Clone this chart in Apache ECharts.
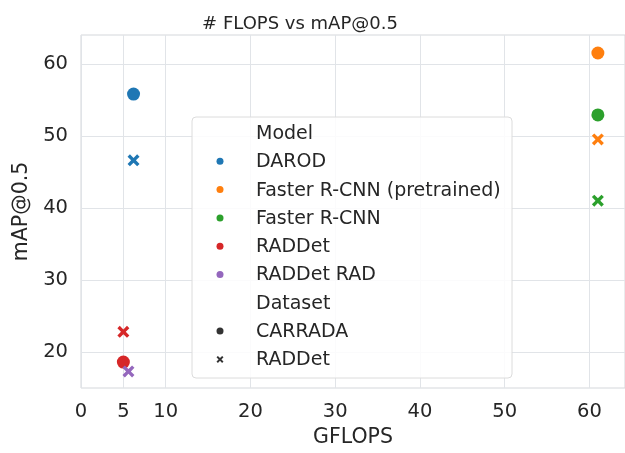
<!DOCTYPE html>
<html>
<head>
<meta charset="utf-8">
<script src="https://cdn.jsdelivr.net/npm/echarts@6/dist/echarts.min.js"></script>
<style>
  html, body { margin: 0; padding: 0; background: #ffffff; }
  #chart { width: 625px; height: 453px; }
</style>
</head>
<body>
<div id="chart"></div>
<script>
// Models, their colours, and the two evaluation datasets
const models = ['DAROD', 'Faster R-CNN (pretrained)', 'Faster R-CNN', 'RADDet', 'RADDet RAD'];
const modelColors = ['#1f77b4', '#ff7f0e', '#2ca02c', '#d62728', '#9467bd'];
const datasets = ['CARRADA', 'RADDet'];

// GFLOPS and mAP@0.5 per model, one pair of arrays per dataset (null = not evaluated)
const carradaGflops = [6.2, 61.0, 61.0, 5.0, null];
const carradaMap    = [55.8, 61.5, 52.9, 18.6, null];
const raddetGflops  = [6.2, 61.0, 61.0, 5.0, 5.6];
const raddetMap     = [46.6, 49.5, 41.0, 22.8, 17.3];

// Tick labels
const xTicks = [0, 5, 10, 20, 30, 40, 50, 60];
const yTicks = [20, 30, 40, 50, 60];

const FONT = 'DejaVu Sans';
const TEXT = '#262626';
const GRIDC = '#e1e4e8';
const CROSS = 'path://M0,2 L2,0 L5,3 L8,0 L10,2 L7,5 L10,8 L8,10 L5,7 L2,10 L0,8 L3,5 Z';

const datasetSymbols = ['circle', CROSS];
const datasetSizes = [13, 12];
const gflopsByDataset = [carradaGflops, raddetGflops];
const mapByDataset = [carradaMap, raddetMap];

const series = [];
datasets.forEach(function (ds, d) {
  models.forEach(function (m, i) {
    const x = gflopsByDataset[d][i];
    const y = mapByDataset[d][i];
    if (x == null || y == null) return;
    series.push({
      type: 'scatter',
      name: m + ' / ' + ds,
      data: [[x, y]],
      symbol: datasetSymbols[d],
      symbolSize: datasetSizes[d],
      itemStyle: { color: modelColors[i], opacity: 1 },
      z: 2 + d,
      animation: false
    });
  });
});

// Legend built as graphic elements: section headers plus entries
const legendRows = [];
legendRows.push({ text: 'Model' });
models.forEach(function (m, i) { legendRows.push({ text: m, symbol: 'circle', color: modelColors[i], size: 7 }); });
legendRows.push({ text: 'Dataset' });
datasets.forEach(function (ds, d) { legendRows.push({ text: ds, symbol: d === 0 ? 'circle' : 'cross', color: '#333333', size: 7 }); });

const legX = 192, legY = 117, legW = 320, legH = 261;
const rowY0 = 133, rowStep = 28.3, markX = 220, textX = 256;
const legendGraphics = [{
  type: 'rect',
  shape: { x: legX, y: legY, width: legW, height: legH, r: 4 },
  style: { fill: 'rgba(255,255,255,0.85)', stroke: '#dcdcdc', lineWidth: 1 },
  z: 20
}];
legendRows.forEach(function (row, k) {
  const cy = rowY0 + k * rowStep;
  if (row.symbol === 'circle') {
    legendGraphics.push({ type: 'circle', shape: { cx: markX, cy: cy, r: row.size / 2 }, style: { fill: row.color }, z: 21 });
  } else if (row.symbol === 'cross') {
    const s = row.size;
    legendGraphics.push({
      type: 'polygon',
      shape: { points: [[0,2],[2,0],[5,3],[8,0],[10,2],[7,5],[10,8],[8,10],[5,7],[2,10],[0,8],[3,5]].map(function (p) { return [markX - s / 2 + p[0] * s / 10, cy - s / 2 + p[1] * s / 10]; }) },
      style: { fill: row.color }, z: 21
    });
  }
  legendGraphics.push({
    type: 'text', x: textX, y: cy + 1,
    style: { text: row.text, font: '19px "' + FONT + '"', fill: TEXT, verticalAlign: 'middle', align: 'left' },
    z: 21
  });
});

const chart = echarts.init(document.getElementById('chart'), null, { renderer: 'canvas' });
chart.setOption({
  backgroundColor: '#ffffff',
  animation: false,
  title: {
    text: '# FLOPS vs mAP@0.5',
    left: 295, top: 10, textAlign: 'center',
    textStyle: { fontFamily: FONT, fontSize: 18, fontWeight: 'normal', color: TEXT }
  },
  grid: {
    left: 81, top: 35, right: 0, bottom: 65,
    show: true, borderColor: '#d4d7db', borderWidth: 1, backgroundColor: '#ffffff'
  },
  xAxis: {
    type: 'value', min: 0, max: 64.2,
    name: 'GFLOPS', nameLocation: 'middle', nameGap: 38,
    nameTextStyle: { fontFamily: FONT, fontSize: 20.5, color: TEXT },
    axisLine: { show: false },
    axisTick: { show: false, customValues: xTicks },
    axisLabel: { customValues: xTicks, fontFamily: FONT, fontSize: 19.5, color: TEXT, margin: 14 },
    splitLine: { show: true, lineStyle: { color: GRIDC, width: 1 } }
  },
  yAxis: {
    type: 'value', min: 15, max: 64,
    name: 'mAP@0.5', nameLocation: 'middle', nameGap: 43,
    nameTextStyle: { fontFamily: FONT, fontSize: 20.5, color: TEXT },
    axisLine: { show: false },
    axisTick: { show: false, customValues: yTicks },
    axisLabel: { customValues: yTicks, fontFamily: FONT, fontSize: 19.5, color: TEXT, margin: 13 },
    splitLine: { show: true, lineStyle: { color: GRIDC, width: 1 } }
  },
  series: series,
  graphic: legendGraphics
});
</script>
</body>
</html>
